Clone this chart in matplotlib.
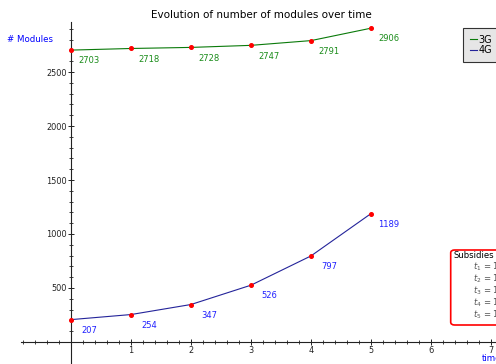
import numpy as np
import matplotlib
matplotlib.use("Agg")
import matplotlib.pyplot as plt
from matplotlib.patches import FancyBboxPatch
from matplotlib.ticker import FixedLocator

# --- data -------------------------------------------------------------
years = [0, 1, 2, 3, 4, 5]
modules_3g = [2703, 2718, 2728, 2747, 2791, 2906]
modules_4g = [207, 254, 347, 526, 797, 1189]
series_names = ["3G", "4G"]
x_ticks = [1, 2, 3, 4, 5, 6, 7]
y_ticks = [500, 1000, 1500, 2000, 2500]
subsidy_lines = ["$t_1$ = 1000", "$t_2$ = 1000", "$t_3$ = 1000",
                 "$t_4$ = 1000", "$t_5$ = 1000"]
title = "Evolution of number of modules over time"

# --- figure -----------------------------------------------------------
W, H = 496, 364
fig = plt.figure(figsize=(W / 100, H / 100), dpi=100)
ax = fig.add_axes([0, 0, 1, 1])
ax.patch.set_visible(False)

ax.set_xlim(-1.183, 7.083)
ax.set_ylim(-204, 3167)

c3g_line, c3g_text = "#0a7a0a", "#1a8c1a"
c4g_line, c4g_text = "#24249a", "#2020ff"

l3, = ax.plot(years, modules_3g, color=c3g_line, lw=0.8, label=series_names[0], zorder=2)
l4, = ax.plot(years, modules_4g, color=c4g_line, lw=0.8, label=series_names[1], zorder=2)
ax.plot(years, modules_3g, ls="none", marker="o", ms=2.6, color="red", zorder=3)
ax.plot(years, modules_4g, ls="none", marker="o", ms=2.6, color="red", zorder=3)

for x, v in zip(years, modules_3g):
    ax.text(x + 0.3, v - 100, str(v), ha="center", va="center", fontsize=6, color=c3g_text)
for x, v in zip(years, modules_4g):
    ax.text(x + 0.3, v - 100, str(v), ha="center", va="center", fontsize=6, color=c4g_text)

# axes crossing at the origin
for s in ("top", "right"):
    ax.spines[s].set_visible(False)
ax.spines["left"].set_position(("data", 0))
ax.spines["bottom"].set_position(("data", 0))
ax.spines["left"].set_bounds(-400, 2963)
ax.spines["bottom"].set_bounds(-0.84, 8)
for s in ("left", "bottom"):
    ax.spines[s].set_linewidth(0.8)
    ax.spines[s].set_color("#222222")

ax.xaxis.set_major_locator(FixedLocator(x_ticks))
ax.yaxis.set_major_locator(FixedLocator(y_ticks))
xm = [round(v, 1) for v in np.arange(-0.8, 7.01, 0.2) if abs(v - round(v)) > 1e-6]
ym = [v for v in range(100, 3000, 100) if v % 500]
ax.xaxis.set_minor_locator(FixedLocator(xm))
ax.yaxis.set_minor_locator(FixedLocator(ym))
ax.tick_params(which="major", direction="inout", length=4, width=0.7,
               labelsize=5.9, pad=1, color="#222222", labelcolor="#222222")
ax.tick_params(which="minor", direction="inout", length=2.2, width=0.6, color="#222222")

# labels and title
fig.text(261 / W, 1 - 15 / H, title, ha="center", va="center", fontsize=7.5)
fig.text(7 / W, 1 - 40 / H, "# Modules", ha="left", va="center", fontsize=6.2, color="blue")
fig.text(482 / W, 1 - 358.5 / H, "time", ha="left", va="center", fontsize=6.2, color="blue")

# legend
leg = ax.legend(handles=[l3, l4], loc="upper left",
                bbox_to_anchor=(463 / W, 1 - 28 / H), bbox_transform=fig.transFigure,
                fontsize=7, frameon=True, fancybox=False, borderpad=0.7,
                labelspacing=0.02, handlelength=0.7, handletextpad=0.2, borderaxespad=0)
leg.get_frame().set_facecolor((0.9, 0.9, 0.9))
leg.get_frame().set_edgecolor("#333333")
leg.get_frame().set_linewidth(0.8)
leg.get_frame().set_alpha(1)

# subsidies box
box = FancyBboxPatch((450.7 / W, 1 - 325 / H), (600 - 450.7) / W, 75 / H,
                     boxstyle="round,pad=0,rounding_size=0.008",
                     transform=fig.transFigure, ec="red", fc="white", lw=1.2,
                     zorder=5)
fig.add_artist(box)
fig.text(453 / W, 1 - 256 / H, "Subsidies", ha="left", va="center", fontsize=6.1, zorder=6)
for i, s in enumerate(subsidy_lines):
    fig.text(473 / W, 1 - (267 + 12 * i) / H, s, ha="left", va="center",
             fontsize=6.1, color="#555555", zorder=6)

fig.savefig("out.png", dpi=100)
